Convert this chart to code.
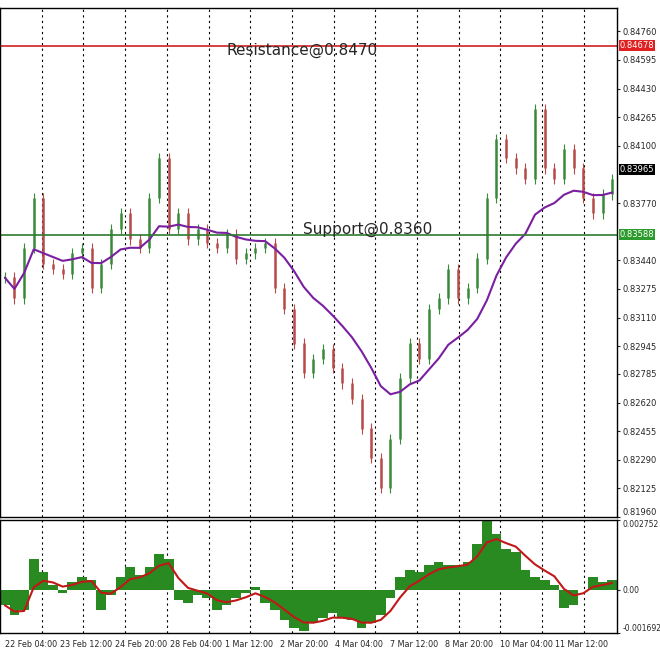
import numpy as np, pandas as pd, matplotlib
matplotlib.use("Agg")
import matplotlib.pyplot as plt, seaborn as sns

closes = [0.8334,0.8322,0.8351,0.8380,0.8342,0.8339,0.8336,0.8348,0.8351,0.8328,0.8342,0.8362,
          0.8371,0.8356,0.8351,0.8380,0.8403,0.8362,0.8371,0.8356,0.8362,0.8354,0.8351,0.8359,
          0.8345,0.8348,0.8351,0.8354,0.8328,0.8316,0.8296,0.8279,0.8287,0.8293,0.8282,0.8273,
          0.8264,0.8247,0.8230,0.8213,0.8241,0.8276,0.8296,0.8287,0.8316,0.8322,0.8339,0.8322,
          0.8328,0.8345,0.8380,0.8414,0.8403,0.8397,0.8391,0.8431,0.8397,0.8391,0.8408,0.8397,
          0.8380,0.8371,0.8382,0.8391]
macd = [-0.0006,-0.0010,-0.0008,0.0012,0.0007,0.0002,-0.0001,0.0003,0.0005,0.0004,-0.0008,-0.0002,
        0.0005,0.0009,0.0006,0.0009,0.0014,0.0012,-0.0004,-0.0005,-0.0002,-0.0003,-0.0008,-0.0006,
        -0.0003,-0.0001,0.0001,-0.0005,-0.0008,-0.0012,-0.0015,-0.0016,-0.0013,-0.0011,-0.0009,-0.0011,
        -0.0012,-0.0015,-0.0013,-0.0010,-0.0003,0.0005,0.0008,0.0007,0.0010,0.0011,0.0010,0.0010,
        0.0011,0.0018,0.0027,0.0022,0.0016,0.0015,0.0008,0.0005,0.0004,0.0002,-0.0007,-0.0006,
        0.0000,0.0005,0.0003,0.0004]
time_labels = ["22 Feb 04:00","23 Feb 12:00","24 Feb 20:00","28 Feb 04:00","1 Mar 12:00","2 Mar 20:00",
               "4 Mar 04:00","7 Mar 12:00","8 Mar 20:00","10 Mar 04:00","11 Mar 12:00"]
price_ticks = [0.84760,0.84595,0.84430,0.84265,0.84100,0.83770,0.83440,0.83275,0.83110,
               0.82945,0.82785,0.82620,0.82455,0.82290,0.82125,0.81960]
resistance, support, last = 0.84678, 0.83588, 0.83965

sns.set_style("white")
n = len(closes)
df = pd.DataFrame({"i": np.arange(n), "c": closes, "m": macd})
df["o"] = df["c"].shift(1).fillna(df["c"].iloc[0])
df["ma"] = df["c"].ewm(span=12).mean()
df["sig"] = df["m"].ewm(span=4).mean()

fig = plt.figure(figsize=(6.6, 6.59), dpi=100)
W = 617/660
ax = fig.add_axes([0.0, 1-517/659, W, 509/659])
ax2 = fig.add_axes([0.0, 1-633/659, W, 113/659])
for a in (ax, ax2):
    for s in a.spines.values():
        s.set_color("black"); s.set_linewidth(1)
    a.set_xlim(-0.5, n-0.5)
    a.yaxis.tick_right()
    a.tick_params(axis="y", labelsize=6, length=2, direction="out", right=True, pad=2)
    for k in range(1, 15):
        a.axvline(-0.5 + k*41.7/617*n, color="black", ls=(0, (2, 3)), lw=0.8, zorder=0)

ax.set_ylim(0.81960, 0.84760 + 0.00056*2.4)
for i, r in df.iterrows():
    col = "#3a8a3a" if r.c >= r.o else "#b84a4a"
    hi, lo = max(r.c, r.o) + 0.0003, min(r.c, r.o) - 0.0003
    ax.vlines(r.i, lo, hi, color=col, lw=0.8)
    ax.vlines(r.i, min(r.c, r.o), max(r.c, r.o) + 1e-5, color=col, lw=1.8)
sns.lineplot(data=df, x="i", y="ma", ax=ax, color="#7a1fa0", lw=1.5)
ax.axhline(resistance, color="#d02020", lw=1.2)
ax.axhline(support, color="#2d7a2d", lw=1.2)
ax.text(n*297/617, resistance-0.0003, "Resistance@0.8470", ha="center", va="center", fontsize=11)
ax.text(n*363/617, support+0.0003, "Support@0.8360", ha="center", va="center", fontsize=11)
ax.set_yticks(price_ticks)
ax.set_yticklabels([f"{v:.5f}" for v in price_ticks])
ax.get_yticklabels()[-1].set_va("bottom")
for v, bg in [(resistance, "#e02020"), (last, "black"), (support, "#2d9a2d")]:
    ax.text(1.004, v, f"{v:.5f}", transform=ax.get_yaxis_transform(), fontsize=6, color="white",
            va="center", ha="left", bbox=dict(boxstyle="square,pad=0.1", fc=bg, ec="none"))
ax.set_xticks([]); ax.set_xlabel(""); ax.set_ylabel("")

ax2.bar(df["i"], df["m"], width=1.0, color="#2a8a22", lw=0)
sns.lineplot(data=df, x="i", y="sig", ax=ax2, color="#c01818", lw=1.5)
ax2.set_ylim(-0.001692, 0.002752)
ax2.set_yticks([0.002752, 0.0, -0.001692])
ax2.set_yticklabels(["0.002752", "0.00", "-0.001692"], fontsize=5.5)
labs = ax2.get_yticklabels()
labs[0].set_va("top"); labs[2].set_va("bottom")
ax2.set_xticks([(5 + 55*k)/617*n - 0.5 for k in range(len(time_labels))])
ax2.set_xticklabels(time_labels, fontsize=5.8, ha="left")
ax2.tick_params(axis="x", length=3, pad=2)
ax2.set_xlabel(""); ax2.set_ylabel("")
fig.savefig("out.png", dpi=100)
